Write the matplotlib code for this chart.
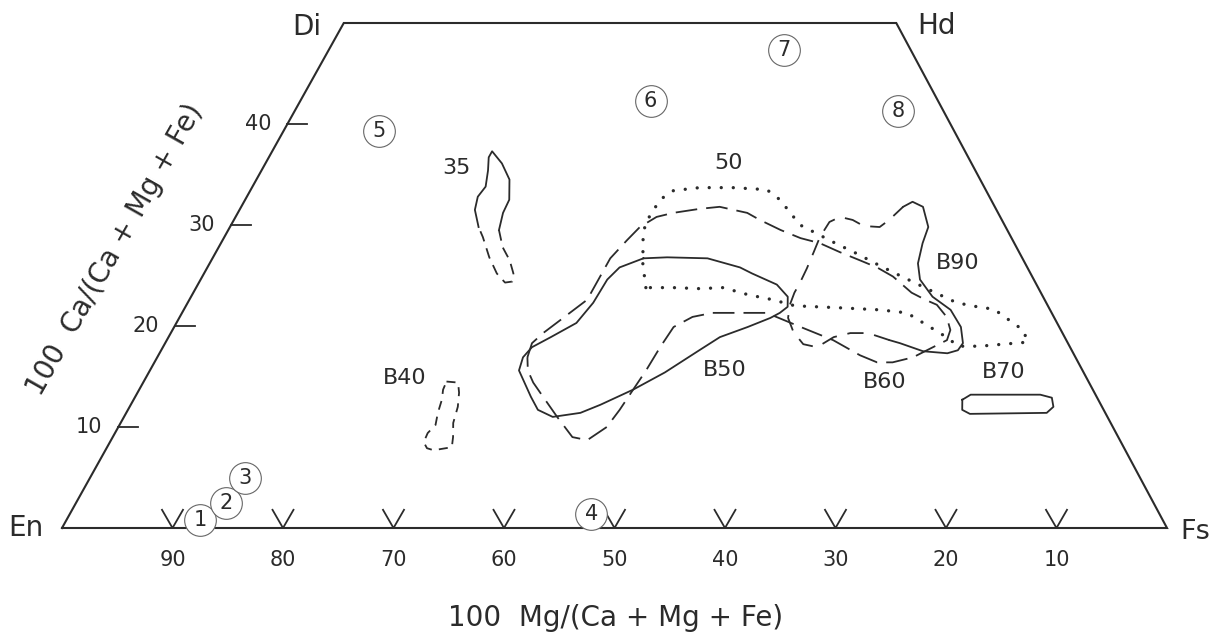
import numpy as np
import matplotlib.pyplot as plt

# pyroxene quadrilateral: compositions given as 100 Mg/(Ca+Mg+Fe) and 100 Ca/(Ca+Mg+Fe)
mg_ticks = [90, 80, 70, 60, 50, 40, 30, 20, 10]
ca_ticks = [10, 20, 30, 40]
corner_names = ['En', 'Fs', 'Hd', 'Di']
corner_mg = [100, 0, 0, 50]
corner_ca = [0, 0, 50, 50]

# numbered analyses
point_ids = ['1', '2', '3', '4', '5', '6', '7', '8']
point_mg = [87.1, 83.9, 81.0, 51.4, 52.1, 26.0, 11.5, 4.1]
point_ca = [0.8, 2.5, 5.0, 1.4, 39.3, 42.3, 47.3, 41.3]

# field outlines
f35_solid_mg = [47.7, 47.2, 46.3, 45.1, 44.1, 43.4, 42.8, 42.5, 42.6, 43.6, 44.8, 46.0]
f35_solid_ca = [29.8, 31.5, 32.8, 33.8, 35.4, 36.7, 37.3, 36.1, 34.5, 32.5, 31.2, 29.5]
f35_dash_mg = [46.0, 46.5, 46.5, 46.8, 47.3, 48.0, 48.3, 48.2, 47.8, 47.7]
f35_dash_ca = [29.5, 27.8, 26.5, 25.2, 24.4, 24.3, 25.2, 26.8, 28.8, 29.8]

b40_mg = [58.1, 57.1, 57.5, 58.3, 59.5, 60.2, 60.8, 61.4, 62.6, 63.1, 63.1, 62.3,
          61.2, 60.4, 59.4, 58.8, 58.1]
b40_ca = [14.5, 14.4, 13.4, 12.0, 10.4, 9.0, 8.0, 7.9, 7.7, 7.9, 8.5, 9.4,
          10.2, 11.4, 12.7, 13.7, 14.5]

b50_mg = [34.3, 32.1, 28.5, 26.0, 25.2, 23.5, 23.1, 23.6, 24.6, 25.7, 28.2, 31.2,
          33.7, 37.9, 41.6, 45.3, 47.5, 50.2, 51.2, 51.2, 51.0, 50.0, 48.7, 46.5,
          43.5, 41.0, 38.6, 36.9, 34.3]
b50_ca = [26.7, 26.8, 26.7, 25.8, 25.2, 24.1, 22.9, 21.9, 21.3, 20.8, 19.9, 18.9,
          17.6, 15.4, 13.7, 12.2, 11.4, 11.0, 11.7, 13.0, 15.6, 16.9, 17.9, 18.9,
          20.3, 22.3, 24.6, 25.8, 26.7]

b60_mg = [49.6, 48.5, 47.0, 45.3, 41.4, 39.1, 37.3, 34.9, 33.1, 31.1, 29.4, 26.8,
          24.9, 22.7, 21.9, 20.5, 19.1, 17.6, 16.2, 14.8, 13.6, 12.6, 11.7, 10.8,
          10.0, 9.7, 10.0, 10.8, 13.1, 14.7, 16.8, 18.2, 19.4, 21.1, 23.4, 25.8,
          28.2, 30.7, 32.7, 34.9, 37.1, 39.5, 41.6, 43.8, 45.8, 48.2, 49.4, 49.8,
          50.1, 50.3, 50.2, 49.6]
b60_ca = [16.9, 18.3, 19.3, 20.3, 22.6, 24.9, 26.7, 28.5, 29.8, 30.8, 31.2, 31.6,
          31.8, 31.2, 30.5, 29.5, 28.7, 28.2, 27.3, 26.5, 25.8, 24.9, 23.3, 22.6,
          22.1, 20.9, 19.6, 18.6, 17.6, 16.9, 16.4, 16.4, 17.1, 18.6, 19.9, 21.3,
          21.3, 21.3, 20.9, 19.9, 17.9, 15.6, 13.7, 11.7, 10.0, 8.7, 9.0, 11.0,
          13.0, 14.4, 15.6, 16.9]

f50_mg = [35.5, 34.6, 33.3, 32.4, 30.7, 29.6, 28.3, 25.8, 22.8, 19.8, 19.1, 18.8,
          18.5, 17.6, 16.2, 14.8, 13.3, 11.8, 9.7, 8.1, 6.0, 5.1, 4.5, 4.0, 3.4,
          3.6, 5.9, 8.1, 10.1, 10.6, 11.9, 13.1, 15.4, 18.9, 22.9, 24.6, 26.6,
          28.5, 30.7, 33.0, 35.5]
f50_ca = [23.8, 26.2, 28.8, 30.2, 31.8, 32.7, 33.4, 33.7, 33.7, 33.5, 32.5, 31.2,
          30.0, 29.3, 28.2, 27.2, 26.0, 24.9, 23.4, 22.3, 21.8, 21.7, 21.0, 20.3,
          19.6, 18.4, 18.2, 18.0, 18.0, 18.8, 20.1, 21.3, 21.6, 21.8, 22.0, 22.6,
          23.1, 23.8, 23.7, 23.8, 23.8]

b90_dash_mg = [16.0, 17.6, 19.2, 20.9, 22.9, 24.0, 24.3, 24.1, 23.3, 22.3, 21.3,
               20.0, 18.6, 17.3, 15.7, 14.5, 13.5, 12.8, 11.4, 10.2, 8.3]
b90_dash_ca = [18.6, 19.3, 19.3, 18.9, 17.9, 18.2, 19.4, 20.8, 22.1, 23.3, 24.3,
               25.7, 27.3, 28.8, 30.3, 30.8, 30.5, 29.9, 29.8, 30.5, 31.8]
b90_solid_mg = [8.3, 7.2, 6.5, 7.0, 8.3, 9.7, 10.3, 10.0, 9.0, 8.9, 9.5, 10.3,
                11.4, 13.5, 15.2, 16.0]
b90_solid_ca = [31.8, 32.3, 31.8, 29.8, 28.2, 26.2, 24.6, 22.9, 21.6, 19.9, 18.3,
                17.6, 17.3, 17.5, 18.3, 18.6]

b70_mg = [12.3, 11.3, 5.0, 4.1, 4.4, 5.3, 12.3, 12.8, 12.3]
b70_ca = [12.7, 13.2, 13.2, 12.9, 12.0, 11.4, 11.3, 11.7, 12.7]

field_labels = ['35', 'B40', '50', 'B50', 'B60', 'B70', 'B90']
label_mg = [46.9, 61.7, 22.0, 32.4, 18.4, 7.2, 6.1]
label_ca = [35.6, 14.9, 36.1, 15.6, 14.5, 15.4, 26.2]

SHEAR = 0.49  # how far the Ca axis leans to the right


def to_xy(mg, ca):
    mg = np.asarray(mg, dtype=float)
    ca = np.asarray(ca, dtype=float)
    return 100 - mg - SHEAR * ca, ca


plt.rcParams['font.family'] = ['DejaVu Sans']
ink = '#2b2b2b'

fig = plt.figure(figsize=(12.13, 6.39), dpi=100)
ax = fig.add_axes([0, 0, 1, 1])
ax.set_xlim(-62 / 11.05, (1213 - 62) / 11.05)
ax.set_ylim(-(639 - 528) / 10.1, 528 / 10.1)
ax.axis('off')

# outline of the quadrilateral
cx, cy = to_xy(corner_mg + corner_mg[:1], corner_ca + corner_ca[:1])
ax.plot(cx, cy, color=ink, lw=1.5, solid_joinstyle='miter')

# V ticks on the En-Fs join
for m in mg_ticks:
    x0, y0 = to_xy(m, 0)
    ax.plot([x0 - 0.95, x0, x0 + 0.95], [1.8, 0, 1.8], color=ink, lw=1.3)
    ax.annotate(str(m), (x0, 0), xytext=(0, -23), textcoords='offset points',
                ha='center', va='center', fontsize=15, color=ink)

# ticks on the En-Di side
for c in ca_ticks:
    x0, y0 = to_xy(100 - c, c)
    ax.plot([x0, x0 + 1.8], [y0, y0], color=ink, lw=1.3)
    ax.annotate(str(c), (x0, y0), xytext=(-11.5, 0), textcoords='offset points',
                ha='right', va='center', fontsize=15, color=ink)

# corner names
corner_off = [(-13, 0, 'right', 20), (9.5, -3, 'left', 19.5), (15, -2, 'left', 20),
              (-16, -3, 'right', 20)]
for name, m, c, (dx, dy, ha, fs) in zip(corner_names, corner_mg, corner_ca, corner_off):
    x0, y0 = to_xy(m, c)
    ax.annotate(name, (x0, y0), xytext=(dx, dy), textcoords='offset points',
                ha=ha, va='center', fontsize=fs, color=ink)

# fields
lw = 1.3
ax.plot(*to_xy(f35_solid_mg, f35_solid_ca), color=ink, lw=lw)
ax.plot(*to_xy(f35_dash_mg, f35_dash_ca), color=ink, lw=lw, ls=(0, (6, 4)))
ax.plot(*to_xy(b40_mg, b40_ca), color=ink, lw=lw, ls=(0, (5, 4)))
ax.plot(*to_xy(b50_mg, b50_ca), color=ink, lw=lw)
ax.plot(*to_xy(b60_mg, b60_ca), color=ink, lw=lw, ls=(0, (12, 5)))
ax.plot(*to_xy(f50_mg, f50_ca), color=ink, lw=2.4, ls=(0, (0.01, 3.6)),
        dash_capstyle='round')
ax.plot(*to_xy(b90_dash_mg, b90_dash_ca), color=ink, lw=lw, ls=(0, (9, 6)))
ax.plot(*to_xy(b90_solid_mg, b90_solid_ca), color=ink, lw=lw)
ax.plot(*to_xy(b70_mg, b70_ca), color=ink, lw=lw)

for t, m, c in zip(field_labels, label_mg, label_ca):
    ax.text(*to_xy(m, c), t, ha='center', va='center', fontsize=16, color=ink)

# circled analysis numbers
px, py = to_xy(point_mg, point_ca)
ax.scatter(px, py, s=520, facecolor='white', edgecolor='#666666', lw=0.8, zorder=5)
for t, x0, y0 in zip(point_ids, px, py):
    ax.text(x0, y0, t, ha='center', va='center', fontsize=15, color=ink, zorder=6)

# axis titles
fig.text(616 / 1213, 1 - 618 / 639, '100  Mg/(Ca + Mg + Fe)', ha='center', va='center',
         fontsize=20, color=ink)
fig.text(115 / 1213, 1 - 250 / 639, '100  Ca/(Ca + Mg + Fe)', ha='center', va='center',
         rotation=60.5, rotation_mode='anchor', fontsize=20, color=ink)

fig.savefig('out.png', dpi=100, facecolor='white')
